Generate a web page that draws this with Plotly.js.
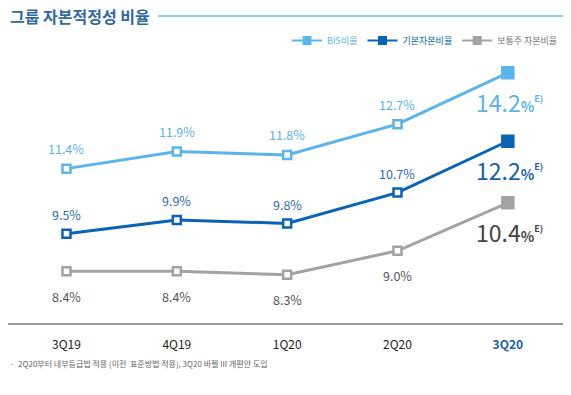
<!DOCTYPE html>
<html><head><meta charset="utf-8">
<script src="https://cdn.plot.ly/plotly-3.0.1.min.js"></script>
<style>html,body{margin:0;padding:0;background:#fff;}#chart{width:571px;height:395px;}</style>
</head><body><div id="chart"></div>
<script>
const categories = ['3Q19','4Q19','1Q20','2Q20','3Q20'];
const bisRatio = [11.4, 11.9, 11.8, 12.7, 14.2];
const tier1Ratio = [9.5, 9.9, 9.8, 10.7, 12.2];
const cet1Ratio = [8.4, 8.4, 8.3, 9.0, 10.4];
const seriesNames = ['BIS비율', '기본자본비율', '보통주 자본비율'];

const colors = ['#5bb4ea', '#0a63b4', '#a3a3a3'];
const labelColors = ['#5bb4ea', '#2a6db5', '#555555'];
const bigColors = ['#5bb4ea', '#1a5fa8', '#444444'];
const series = [bisRatio, tier1Ratio, cet1Ratio];
const font = 'Noto Sans CJK KR, Noto Sans, sans-serif';

const traces = series.map((vals, i) => ({
  x: categories, y: vals, type: 'scatter', mode: 'lines+markers', name: seriesNames[i],
  line: {color: colors[i], width: 3},
  marker: {
    symbol: 'square', opacity: 1,
    size: vals.map((v, j) => j === vals.length - 1 ? 11 : 8),
    color: vals.map((v, j) => j === vals.length - 1 ? colors[i] : '#ffffff'),
    line: {color: colors[i], width: 2.5}
  },
  cliponaxis: false, showlegend: false
}));

seriesNames.forEach((n, i) => traces.push({
  x: [null], y: [null], type: 'scatter', mode: 'lines+markers', name: n,
  line: {color: colors[i], width: 2},
  marker: {symbol: 'square', size: 9, color: colors[i]}
}));

const annotations = [];
const shifts = [20, 19, -25];
series.forEach((vals, i) => {
  vals.forEach((v, j) => {
    if (j < vals.length - 1) {
      annotations.push({x: categories[j], y: v, xref: 'x', yref: 'y', text: v.toFixed(1) + '%',
        showarrow: false, yshift: shifts[i], font: {family: font, size: 12.5, color: labelColors[i]}});
    } else {
      annotations.push({x: categories[j], y: v, xref: 'x', yref: 'y',
        text: v.toFixed(1) + '<b><span style="font-size:14px">%</span></b><sup><b><span style="font-size:9px">E)</span></b></sup>',
        showarrow: false, yshift: -29, xshift: 2, yanchor: 'middle',
        font: {family: font, size: 23, color: bigColors[i]}});
    }
  });
});

const plotH = 395 - 55 - 72;
const yLine = 1 + (55 - 16) / plotH;

annotations.push({xref: 'paper', yref: 'paper', x: 0, xanchor: 'left', y: yLine, yanchor: 'middle',
  text: '<b>그룹 자본적정성 비율</b>', showarrow: false, font: {family: font, size: 16, color: '#2f6aa3'}});
annotations.push({xref: 'paper', yref: 'paper', x: 0, xanchor: 'left', y: 0, yanchor: 'middle', yshift: -40,
  text: '·  2Q20부터 내부등급법 적용 (이전  표준방법 적용), 3Q20 바젤 III 개편안 도입', showarrow: false,
  font: {family: font, size: 8, color: '#666666'}});

const layout = {
  width: 571, height: 395,
  margin: {l: 8, r: 8, t: 55, b: 72},
  paper_bgcolor: '#ffffff', plot_bgcolor: '#ffffff',
  showlegend: true,
  legend: {orientation: 'h', x: 1, xanchor: 'right', y: 1.0, yanchor: 'bottom', yref: 'paper',
    font: {family: font, size: 9, color: '#666'}, bgcolor: 'rgba(0,0,0,0)'},
  xaxis: {type: 'category', range: [-0.53, 4.5], showgrid: false, zeroline: false,
    showline: true, linecolor: '#9a9a9a', linewidth: 2, ticks: '',
    tickfont: {family: font, size: 12, color: '#222222'}, ticklabelstandoff: 10},
  yaxis: {range: [6.89, 14.72], visible: false, showgrid: false, zeroline: false, fixedrange: true},
  annotations: annotations,
  shapes: [{type: 'line', xref: 'paper', yref: 'paper', x0: 0.27, x1: 1, y0: yLine, y1: yLine,
    line: {color: '#8ecbee', width: 2}}]
};

Plotly.newPlot('chart', traces, layout, {displayModeBar: false, staticPlot: true}).then(() => {
  document.querySelectorAll('.xtick text').forEach(t => {
    if (t.textContent === '3Q20') { t.style.fill = '#1f5f9e'; t.style.fontWeight = 'bold'; }
  });
  document.querySelectorAll('.legendtext').forEach((t, i) => {
    t.style.fill = i === 2 ? '#777777' : colors[i];
  });
});
</script></body></html>
